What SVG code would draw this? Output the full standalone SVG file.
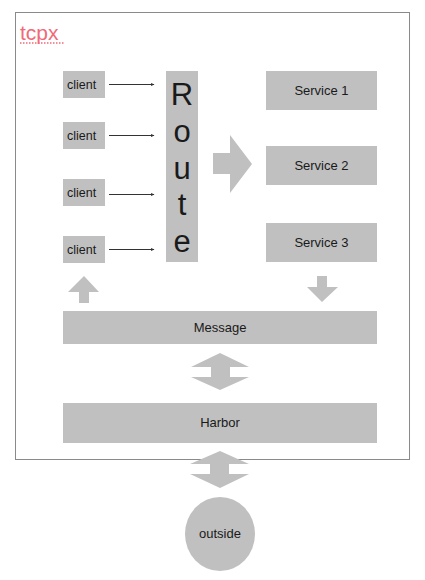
<svg xmlns="http://www.w3.org/2000/svg" width="425" height="580" viewBox="0 0 425 580">
<style>
.box{fill:#c0c0c0}
.arr{fill:#c0c0c0}
.t{font-family:"Liberation Sans",Arial,sans-serif;font-size:13px;fill:#1a1a1a;text-anchor:middle}
.cl{font-family:"Liberation Sans",Arial,sans-serif;font-size:12.5px;fill:#1a1a1a}
.big{font-family:"Liberation Sans",Arial,sans-serif;font-size:31px;fill:#1a1a1a;text-anchor:middle}
.ln{stroke:#333;stroke-width:1;fill:none}
</style>
<defs>
<marker id="ah" markerWidth="4" markerHeight="4" refX="3" refY="2" orient="auto" markerUnits="userSpaceOnUse">
<path d="M0,0.5 L3.5,2 L0,3.5 Z" fill="#333"/>
</marker>
</defs>
<rect width="425" height="580" fill="#fff"/>
<g id="frame">
<rect x="15.5" y="12.5" width="394" height="447" fill="none" stroke="#8a8a8a" stroke-width="1"/>
<text x="20" y="40" font-family="'Liberation Sans',Arial,sans-serif" font-size="21" fill="#f06a78">tcpx</text>
<line x1="20" y1="43" x2="64" y2="43" stroke="#f06a78" stroke-width="1.5" stroke-dasharray="1.5,1.5"/>
</g>
<g id="client1"><rect class="box" x="63" y="71" width="42" height="27"/><text class="cl" x="67" y="89">client</text></g>
<g id="client2"><rect class="box" x="63" y="122" width="42" height="27"/><text class="cl" x="67" y="140">client</text></g>
<g id="client3"><rect class="box" x="63" y="179" width="42" height="27"/><text class="cl" x="67" y="197">client</text></g>
<g id="client4"><rect class="box" x="63" y="236" width="42" height="27"/><text class="cl" x="67" y="254">client</text></g>
<g id="route">
<rect class="box" x="166" y="71" width="32" height="191"/>
<text class="big" x="182" y="105">R</text>
<text class="big" x="182" y="142">o</text>
<text class="big" x="182" y="179">u</text>
<text class="big" x="182" y="215">t</text>
<text class="big" x="182" y="252" font-size="36">e</text>
</g>
<g id="service1"><rect class="box" x="266" y="71" width="111" height="39"/><text class="t" x="321.5" y="95">Service 1</text></g>
<g id="service2"><rect class="box" x="266" y="146" width="111" height="39"/><text class="t" x="321.5" y="170">Service 2</text></g>
<g id="service3"><rect class="box" x="266" y="223" width="111" height="39"/><text class="t" x="321.5" y="247">Service 3</text></g>
<g id="message"><rect class="box" x="63" y="311" width="314" height="33"/><text class="t" x="220" y="332">Message</text></g>
<g id="harbor"><rect class="box" x="63" y="403" width="314" height="40"/><text class="t" x="220" y="427">Harbor</text></g>
<g id="outside"><ellipse class="box" cx="220" cy="534" rx="35" ry="37"/><text class="t" x="220" y="538">outside</text></g>
<g id="connectors">
<line class="ln" x1="109" y1="84.5" x2="154" y2="84.5" marker-end="url(#ah)"/>
<line class="ln" x1="109" y1="135.5" x2="154" y2="135.5" marker-end="url(#ah)"/>
<line class="ln" x1="109" y1="194.5" x2="154" y2="194.5" marker-end="url(#ah)"/>
<line class="ln" x1="109" y1="249.5" x2="154" y2="249.5" marker-end="url(#ah)"/>
<path class="arr" d="M213,153 L230,153 L230,135 L252,164 L230,193 L230,174 L213,174 Z"/>
<path class="arr" d="M84,276 L99,292 L89,292 L89,303 L79,303 L79,292 L68,292 Z"/>
<path class="arr" d="M317,276 L327,276 L327,287 L338,287 L322,302 L307,287 L317,287 Z"/>
<path class="arr" d="M220,353 L249,367 L230,367 L230,377 L249,377 L220,390 L191,377 L211,377 L211,367 L191,367 Z"/>
<path class="arr" d="M220,451 L249,464 L229,464 L229,474 L249,474 L220,488 L190,474 L210,474 L210,464 L190,464 Z"/>
</g>
</svg>
